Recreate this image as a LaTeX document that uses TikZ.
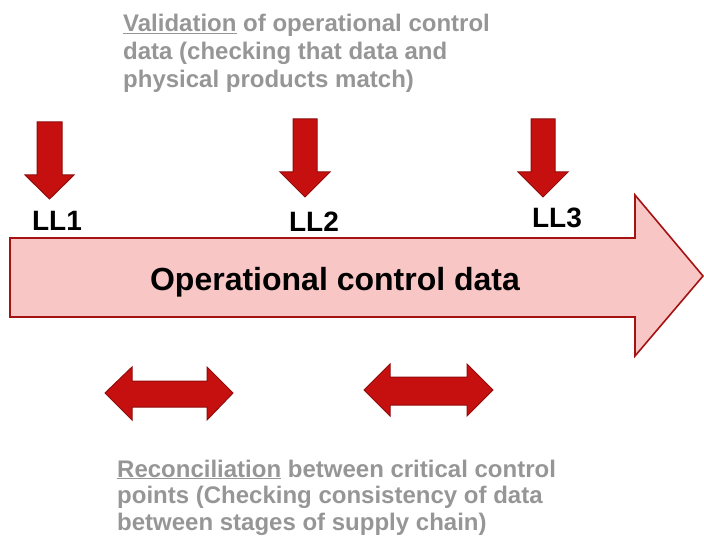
\documentclass[tikz,border=0pt]{standalone}
\usepackage{fontspec}
\setmainfont{Liberation Sans}
\definecolor{flowfill}{RGB}{249,198,198}
\definecolor{flowline}{RGB}{165,18,18}
\definecolor{markred}{RGB}{198,16,16}
\definecolor{markline}{RGB}{145,12,12}
\definecolor{notegray}{RGB}{150,150,150}
\tikzset{
  flowarrow/.style={fill=flowfill, draw=flowline, line width=1.6pt, line join=miter},
  redmark/.style={fill=markred, draw=markline, line width=1pt, line join=miter},
  lltext/.style={font=\bfseries\fontsize{28}{30}\selectfont, text=black, inner sep=0pt, anchor=base},
  notetext/.style={font=\bfseries\fontsize{24}{28}\selectfont, text=notegray, inner sep=0pt, anchor=base west, align=left},
}
\begin{document}
\begin{tikzpicture}[x=1pt, y=-1pt]
\useasboundingbox (0,0) rectangle (704,540);

% main data-flow arrow
\draw[flowarrow] (10,238) -- (635,238) -- (635,195) -- (703,276) -- (635,356) -- (635,317) -- (10,317) -- cycle;
\node[font=\bfseries\fontsize{32}{36}\selectfont, inner sep=0pt, anchor=base] (flow) at (335,290) {Operational control data};

% validation points (downward arrows)
\draw[redmark] (37,122) -- (62,122) -- (62,175) -- (74,175) -- (49.5,199) -- (25,175) -- (37,175) -- cycle;
\draw[redmark] (293,119) -- (317,119) -- (317,172) -- (330,172) -- (305,197) -- (280,172) -- (293,172) -- cycle;
\draw[redmark] (531,119) -- (555,119) -- (555,172) -- (568,172) -- (543,197) -- (518,172) -- (531,172) -- cycle;

\node[lltext] (ll1) at (57,230) {LL1};
\node[lltext] (ll2) at (314,232) {LL2};
\node[lltext] (ll3) at (557,228) {LL3};

% reconciliation (double arrows)
\draw[redmark] (105,393) -- (132,367) -- (132,381) -- (207,381) -- (207,367) -- (233,393) -- (207,420) -- (207,407) -- (132,407) -- (132,420) -- cycle;
\draw[redmark] (364,390) -- (390,364) -- (390,377) -- (467,377) -- (467,364) -- (493,390) -- (467,416) -- (467,405) -- (390,405) -- (390,416) -- cycle;

% explanatory notes (anchored at the baseline of their last line)
\node[notetext] (validation) at (123,88) {\underline{Validation} of operational control\\data (checking that data and\\physical products match)};
\node[notetext, font=\bfseries\fontsize{24}{26.5}\selectfont] (reconciliation) at (117,530) {\underline{Reconciliation} between critical control\\points (Checking consistency of data\\between stages of supply chain)};
\end{tikzpicture}
\end{document}
